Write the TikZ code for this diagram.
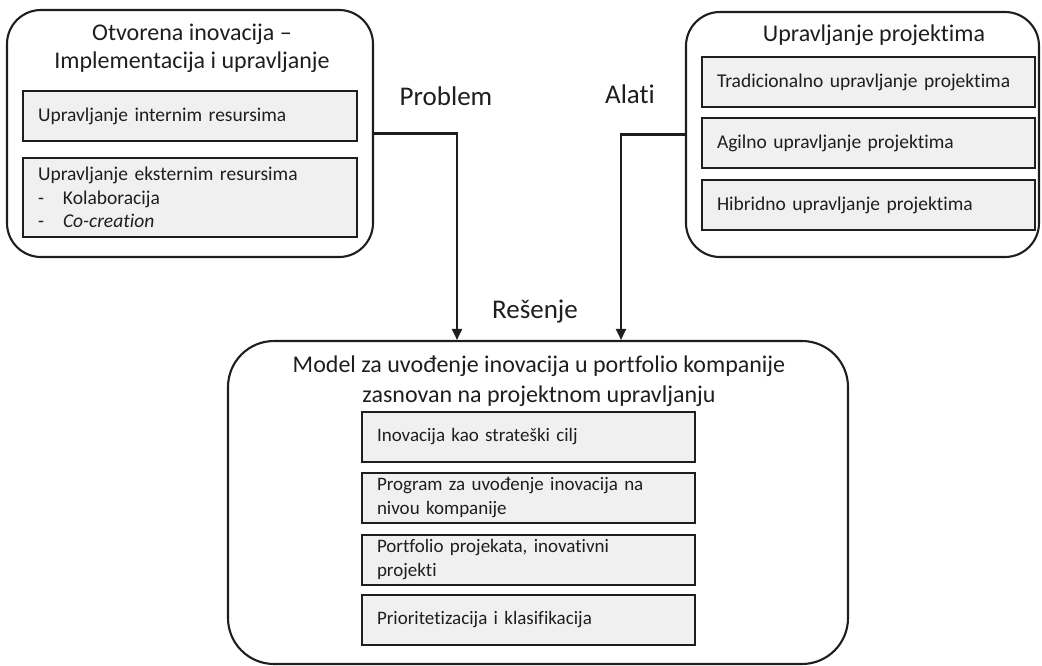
\documentclass[tikz,border=0pt]{standalone}
\usepackage{fontspec}
\setmainfont[Ligatures=NoCommon]{Carlito}
\usetikzlibrary{arrows.meta}
\definecolor{boxfill}{HTML}{F0F0F0}
\definecolor{ink}{HTML}{1E1E1E}
\begin{document}
\begin{tikzpicture}[x=1pt,y=-1pt,
  outerbox/.style={draw=ink, line width=2.1pt, rounded corners=34pt, inner sep=0pt},
  innerbox/.style={draw=ink, fill=boxfill, line width=2pt, inner xsep=15pt, inner ysep=0pt,
    text width=#1, align=left, minimum height=50pt, font=\fontsize{19.5}{23.5}\selectfont, text=ink},
  innerbox/.default=303pt,
  titletext/.style={align=center, font=\fontsize{24}{28}\selectfont, text=ink},
  lbl/.style={font=\fontsize{27}{30}\selectfont, text=ink},
  arr/.style={draw=ink, line width=2.1pt, -{Triangle[width=10pt,length=11pt]}}]
\useasboundingbox (0,0) rectangle (1042,666);

% upper left block: open innovation
\node[outerbox, minimum width=366pt, minimum height=247pt] (L) at (190,133.5) {};
\node[titletext] (Lt) at (192,48) {Otvorena inovacija --\\Implementacija i upravljanje};
\node[innerbox=304pt] (L1) at (190,116) {Upravljanje internim resursima};
\node[innerbox=304pt, minimum height=79pt] (L2) at (190,197.5)
  {Upravljanje eksternim resursima\\\makebox[25pt][l]{-}Kolaboracija\\\makebox[25pt][l]{-}\textit{Co-creation}};

% upper right block: project management
\node[outerbox, minimum width=353pt, minimum height=245pt] (R) at (862.5,134.5) {};
\node[titletext] (Rt) at (874,35) {Upravljanje projektima};
\node[innerbox] (R1) at (868.5,82) {Tradicionalno upravljanje projektima};
\node[innerbox] (R2) at (868.5,143.5) {Agilno upravljanje projektima};
\node[innerbox] (R3) at (868.5,205) {Hibridno upravljanje projektima};

% lower block: the model
\node[outerbox, rounded corners=46pt, minimum width=620pt, minimum height=323pt] (B) at (538,502.5) {};
\node[titletext, font=\fontsize{24}{30}\selectfont] (Bt) at (539,381)
  {Model za uvođenje inovacija u portfolio kompanije\\zasnovan na projektnom upravljanju};
\node[innerbox, font=\fontsize{19}{24}\selectfont] (B1) at (528.5,437) {Inovacija kao strateški cilj};
\node[innerbox, font=\fontsize{19}{24}\selectfont] (B2) at (528.5,498) {Program za uvođenje inovacija na\\nivou kompanije};
\node[innerbox, font=\fontsize{19}{24}\selectfont] (B3) at (528.5,560) {Portfolio projekata, inovativni\\projekti};
\node[innerbox, font=\fontsize{19}{24}\selectfont] (B4) at (528.5,620) {Prioritetizacija i klasifikacija};

% connectors
\coordinate (pdrop) at (457,0);
\coordinate (adrop) at (621,0);
\draw[arr] (L.east) -| (pdrop |- B.north);
\draw[arr] (R.west) -| (adrop |- B.north);

% connector labels
\node[lbl] (lp) at (446,96) {Problem};
\node[lbl] (la) at (630,94) {Alati};
\node[lbl] (lr) at (535,312) {Rešenje};
\end{tikzpicture}
\end{document}
